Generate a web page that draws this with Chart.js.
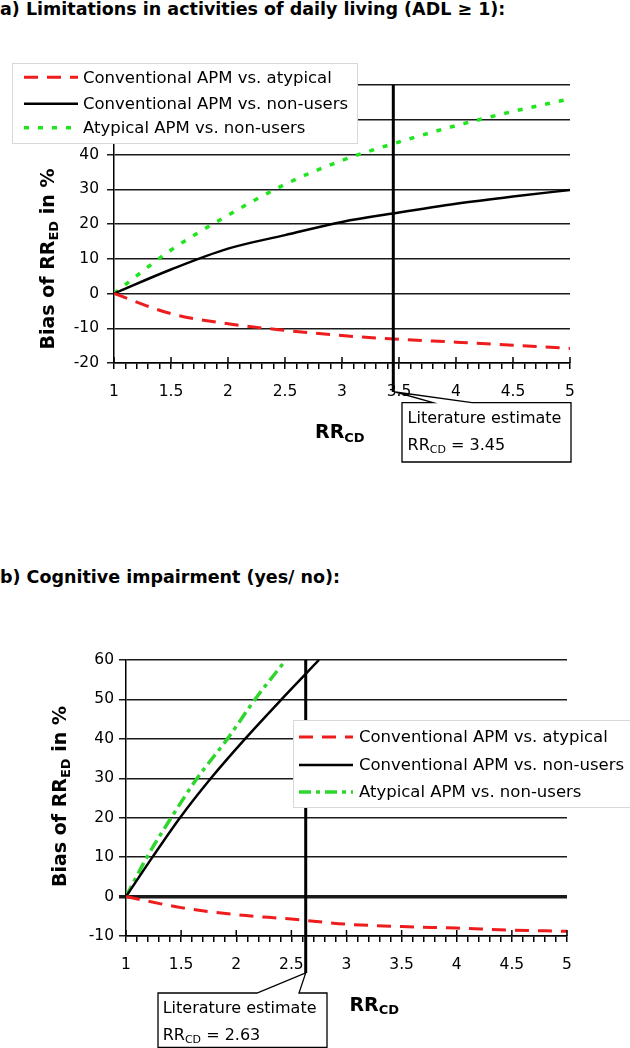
<!DOCTYPE html>
<html>
<head>
<meta charset="utf-8">
<script src="https://cdn.jsdelivr.net/npm/chart.js@4.4.1/dist/chart.umd.min.js"></script>
<style>
  body { margin: 0; background: #fff; width: 630px; height: 1048px; position: relative; overflow: hidden; font-family: "DejaVu Sans", sans-serif; }
  .ttl { position: absolute; left: 0; font-weight: bold; font-size: 17.5px; line-height: 20px; white-space: nowrap; color: #000; }
  canvas { position: absolute; left: 0; }
</style>
</head>
<body>
<div class="ttl" style="top:-1px">a) Limitations in activities of daily living (ADL ≥ 1):</div>
<canvas id="chartA" width="630" height="450" style="top:30px"></canvas>
<div class="ttl" style="top:567px">b) Cognitive impairment (yes/ no):</div>
<canvas id="chartB" width="630" height="448" style="top:600px"></canvas>
<script>
const xTickLabels = ['1', '1.5', '2', '2.5', '3', '3.5', '4', '4.5', '5'];
const seriesNames = ['Conventional APM vs. atypical', 'Conventional APM vs. non-users', 'Atypical APM vs. non-users'];

// a) ADL >= 1
const rrA = [1, 1.5, 2, 2.5, 3, 3.5, 4, 4.5, 5];
const convAtypA = [0, -5.8, -8.7, -10.6, -12.1, -13.2, -14, -14.9, -15.8];
const convNonA = [0, 6.9, 12.9, 16.8, 20.6, 23.3, 25.8, 27.9, 29.8];
const atypNonA = [0, 12.5, 22.5, 31.4, 38.3, 43.6, 48.3, 52.4, 56];
const litA = 3.45;

// b) cognitive impairment
const rrB = [1, 1.5, 2, 2.5, 3, 3.5, 4, 4.5, 5];
const convAtypB = [0, -2.8, -4.6, -5.7, -7, -7.6, -8, -8.5, -8.8];
const rrConvNonB = [1, 1.24, 1.49, 1.77, 2.08, 2.41, 2.75];
const convNonB = [0, 10, 20, 30, 40, 50, 60];
const rrAtypNonB = [1, 1.19, 1.41, 1.645, 1.92, 2.17, 2.45];
const atypNonB = [0, 10, 20, 30, 40, 50, 60];
const litB = 2.63;

const FONT = '"DejaVu Sans", sans-serif';
Chart.defaults.font.family = FONT;
Chart.defaults.color = '#000';

const pts = (xs, ys) => xs.map((x, i) => ({ x: x, y: ys[i] }));

function rich(ctx, parts, x, y, draw) {
  let cx = x;
  for (const [t, size, bold, dy] of parts) {
    ctx.font = (bold ? 'bold ' : '') + size + 'px ' + FONT;
    if (draw) ctx.fillText(t, cx, y + dy);
    cx += ctx.measureText(t).width;
  }
  return cx - x;
}

const decor = {
  id: 'decor',
  afterDatasetsDraw(chart, args, o) {
    const ctx = chart.ctx, xs = chart.scales.x, area = chart.chartArea;
    ctx.save();
    ctx.strokeStyle = '#000';
    ctx.lineWidth = 1.5;
    // upper half of the major x ticks
    xTickLabels.forEach(l => {
      const px = xs.getPixelForValue(+l);
      ctx.beginPath();
      ctx.moveTo(px, area.bottom - 6);
      ctx.lineTo(px, area.bottom);
      ctx.stroke();
    });
    // literature estimate line
    const rx = xs.getPixelForValue(o.refValue);
    ctx.lineWidth = 3;
    ctx.beginPath();
    ctx.moveTo(rx, area.top);
    ctx.lineTo(rx, area.bottom + o.refDrop);
    ctx.stroke();
    ctx.restore();
  },
  afterDraw(chart, args, o) {
    const ctx = chart.ctx, xs = chart.scales.x, area = chart.chartArea;
    ctx.save();
    ctx.fillStyle = '#000';
    ctx.textAlign = 'left';
    ctx.textBaseline = 'alphabetic';

    // axis titles
    rich(ctx, [['RR', 19, true, 0], ['CD', 13, true, 3.5]], o.xTitle[0], o.xTitle[1], true);
    ctx.save();
    ctx.translate(o.yTitle[0], o.yTitle[1]);
    ctx.rotate(-Math.PI / 2);
    const yParts = [['Bias of RR', 19, true, 0], ['ED', 13, true, 3.5], [' in %', 19, true, 0]];
    const w = rich(ctx, yParts, 0, 0, false);
    rich(ctx, yParts, -w / 2, 0, true);
    ctx.restore();

    // callout
    const c = o.callout;
    const tip = [xs.getPixelForValue(o.refValue) + o.tipDx, area.bottom + o.refDrop];
    ctx.fillStyle = '#fff';
    ctx.fillRect(c.box[0], c.box[1], c.box[2] - c.box[0], c.box[3] - c.box[1]);
    ctx.strokeStyle = '#000';
    ctx.lineWidth = 1.3;
    ctx.beginPath();
    ctx.moveTo(c.box[0], c.box[1]);
    ctx.lineTo(c.base[0], c.box[1]);
    ctx.lineTo(tip[0], tip[1]);
    ctx.lineTo(c.base[1], c.box[1]);
    ctx.lineTo(c.box[2], c.box[1]);
    ctx.lineTo(c.box[2], c.box[3]);
    ctx.lineTo(c.box[0], c.box[3]);
    ctx.closePath();
    ctx.stroke();
    ctx.fillStyle = '#000';
    rich(ctx, [['Literature estimate', 16, false, 0]], c.text[0], c.text[1], true);
    rich(ctx, [['RR', 16, false, 0], ['CD', 11, false, 3], [' = ' + o.refValue.toFixed(2), 16, false, 0]], c.text[0], c.text[2], true);

    // legend
    const L = o.legend;
    ctx.fillStyle = '#fff';
    ctx.fillRect(L.box[0], L.box[1], L.box[2], L.box[3]);
    ctx.strokeStyle = '#d8d8d8';
    ctx.lineWidth = 1;
    ctx.strokeRect(L.box[0] + 0.5, L.box[1] + 0.5, L.box[2], L.box[3]);
    ctx.textBaseline = 'middle';
    chart.data.datasets.forEach((ds, i) => {
      const y = L.rows[i];
      ctx.strokeStyle = ds.borderColor;
      ctx.lineWidth = ds.borderWidth;
      ctx.setLineDash(ds.borderDash || []);
      ctx.beginPath();
      ctx.moveTo(L.sample[0], y);
      ctx.lineTo(L.sample[1], y);
      ctx.stroke();
      ctx.setLineDash([]);
      ctx.fillStyle = '#000';
      ctx.font = '16.5px ' + FONT;
      ctx.fillText(ds.label, L.textX, y + 1);
    });
    ctx.restore();
  }
};

function makeChart(id, datasets, yMin, yMax, g) {
  return new Chart(document.getElementById(id), {
    type: 'line',
    data: { datasets: datasets },
    options: {
      responsive: false,
      animation: false,
      layout: { padding: { left: 0, top: g.padTop, right: g.padRight, bottom: 0 } },
      elements: { point: { radius: 0 }, line: { cubicInterpolationMode: 'monotone' } },
      plugins: { legend: { display: false }, tooltip: { enabled: false }, decor: g.decor },
      scales: {
        x: {
          type: 'linear', min: 1, max: 5,
          grid: { drawOnChartArea: false, color: '#000', lineWidth: 1.5, tickLength: 6 },
          border: { color: '#000', width: 1.5 },
          ticks: {
            stepSize: 0.1, autoSkip: false, maxRotation: 0, padding: 14, font: { size: 15.5 },
            callback: v => {
              const i = xTickLabels.findIndex(l => Math.abs(+l - v) < 1e-6);
              return i < 0 ? '' : xTickLabels[i];
            }
          },
          afterFit: s => { s.height = g.xHeight; }
        },
        y: {
          min: yMin, max: yMax,
          grid: {
            color: '#1a1a1a', tickLength: 7,
            lineWidth: c => (g.boldZero && c.tick && c.tick.value === 0) ? 3.5 : 1.5
          },
          border: { color: '#000', width: 1.5 },
          ticks: { stepSize: 10, padding: g.yPad, font: { size: 15.5 } },
          afterFit: s => { s.width = g.yWidth; }
        }
      }
    },
    plugins: [decor]
  });
}

const red = { borderColor: '#ee1c1c', borderWidth: 3, borderDash: [14, 9] };
const black = { borderColor: '#000000', borderWidth: 2.5, borderDash: [] };

makeChart('chartA', [
  Object.assign({ label: seriesNames[0], data: pts(rrA, convAtypA) }, red),
  Object.assign({ label: seriesNames[1], data: pts(rrA, convNonA) }, black),
  { label: seriesNames[2], data: pts(rrA, atypNonA), borderColor: '#1fe51f', borderWidth: 3.5, borderDash: [5, 9] }
], -20, 60, {
  padTop: 55, padRight: 60, yWidth: 114, xHeight: 117, yPad: 8, boldZero: false,
  decor: {
    refValue: litA, refDrop: 29, tipDx: 2,
    xTitle: [315, 408], yTitle: [54, 229],
    callout: { box: [402, 372.7, 571, 432], base: [433, 472], text: [407.6, 393, 420] },
    legend: { box: [12, 33, 345, 80], rows: [47.3, 73.7, 97.7], sample: [24, 78], textX: 83 }
  }
});

makeChart('chartB', [
  Object.assign({ label: seriesNames[0], data: pts(rrB, convAtypB) }, red),
  Object.assign({ label: seriesNames[1], data: pts(rrConvNonB, convNonB) }, black),
  { label: seriesNames[2], data: pts(rrAtypNonB, atypNonB), borderColor: '#2ed62e', borderWidth: 3.5, borderDash: [12, 5, 4, 5] }
], -10, 60, {
  padTop: 60, padRight: 63, yWidth: 126, xHeight: 112, yPad: 5, boldZero: true,
  decor: {
    refValue: litB, refDrop: 37, tipDx: 0,
    xTitle: [349.4, 410.7], yTitle: [66, 196.5],
    callout: { box: [158, 393, 327, 447.5], base: [257, 299], text: [162.7, 413.3, 440] },
    legend: { box: [293, 120, 340, 87], rows: [137, 165, 192], sample: [299, 353], textX: 359 }
  }
});
</script>
</body>
</html>
